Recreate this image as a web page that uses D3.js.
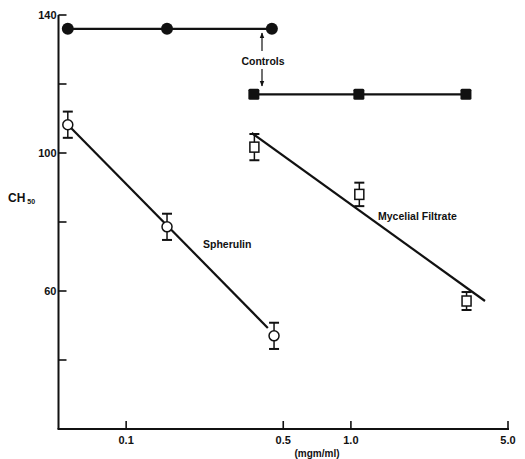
<!DOCTYPE html>
<html><head><meta charset="utf-8">
<script src="https://cdn.jsdelivr.net/npm/d3@7"></script>
<style>
body{margin:0;background:#fff;}
text{font-family:"Liberation Sans",Arial,sans-serif;font-weight:bold;fill:#111;}
</style></head>
<body><svg id="c" width="525" height="459"></svg>
<script>
// Data
const yTicks = [40, 60, 80, 100, 120, 140];
const yTickLabels = ["", "60", "", "100", "", "140"];
const xTicks = [0.1, 0.5, 1.0, 5.0];
const xTickLabels = ["0.1", "0.5", "1.0", "5.0"];

const spherulinControlX = [0.055, 0.152, 0.445];
const spherulinControlY = [136, 136, 136];
const mycelialControlX = [0.37, 1.085, 3.25];
const mycelialControlY = [117, 117, 117];

const spherulinX = [0.055, 0.152, 0.455];
const spherulinY = [108.2, 78.6, 47.0];
const spherulinErr = [3.8, 3.8, 3.8];
const spherulinFitX = [0.057, 0.427];
const spherulinFitY = [107.2, 49.3];

const mycelialX = [0.372, 1.09, 3.27];
const mycelialY = [101.7, 88.0, 57.1];
const mycelialErr = [3.8, 3.4, 2.6];
const mycelialFitX = [0.362, 3.95];
const mycelialFitY = [105.8, 57.1];

const svg = d3.select("#c");
const x = d3.scaleLog().domain([0.05, 5]).range([58.5, 508]);
const y = d3.scaleLinear().domain([20, 140]).range([429, 15]);
const ink = "#111";

// Y axis
svg.append("line").attr("x1", x(0.05)).attr("x2", x(0.05)).attr("y1", y(140)).attr("y2", y(20))
  .attr("stroke", ink).attr("stroke-width", 2);
yTicks.forEach((t, i) => {
  svg.append("line").attr("x1", x(0.05)).attr("x2", x(0.05) + 8).attr("y1", y(t)).attr("y2", y(t))
    .attr("stroke", ink).attr("stroke-width", 1.6);
  if (yTickLabels[i]) svg.append("text").attr("x", x(0.05) - 2).attr("y", y(t) + 4)
    .attr("text-anchor", "end").attr("font-size", 11).text(yTickLabels[i]);
});
// X axis
svg.append("line").attr("x1", x(0.05) - 1).attr("x2", x(5) + 1).attr("y1", y(20)).attr("y2", y(20))
  .attr("stroke", ink).attr("stroke-width", 2);
xTicks.forEach((t, i) => {
  svg.append("line").attr("x1", x(t)).attr("x2", x(t)).attr("y1", y(20)).attr("y2", y(20) - 8)
    .attr("stroke", ink).attr("stroke-width", 1.6);
  svg.append("text").attr("x", x(t)).attr("y", y(20) + 15).attr("text-anchor", "middle")
    .attr("font-size", 11).text(xTickLabels[i]);
});
svg.append("text").attr("x", 317).attr("y", 457).attr("text-anchor", "middle").attr("font-size", 10).text("(mgm/ml)");
const ch = svg.append("text").attr("x", 8).attr("y", 202).attr("font-size", 12);
ch.append("tspan").text("CH");
ch.append("tspan").attr("font-size", 7).attr("dx", 2).attr("dy", 2).text("50");

const line = d3.line().x(d => x(d[0])).y(d => y(d[1]));
function path(xs, ys) {
  svg.append("path").attr("d", line(xs.map((v, i) => [v, ys[i]])))
    .attr("fill", "none").attr("stroke", ink).attr("stroke-width", 2.2);
}
// control lines
path(spherulinControlX, spherulinControlY);
path(mycelialControlX, mycelialControlY);
// fit lines
path(spherulinFitX, spherulinFitY);
path(mycelialFitX, mycelialFitY);

// error bars
function errbars(xs, ys, es) {
  xs.forEach((v, i) => {
    const cx = x(v), y1 = y(ys[i] + es[i]), y2 = y(ys[i] - es[i]);
    svg.append("line").attr("x1", cx).attr("x2", cx).attr("y1", y1).attr("y2", y2).attr("stroke", ink).attr("stroke-width", 1.5);
    [y1, y2].forEach(yy => svg.append("line").attr("x1", cx - 5).attr("x2", cx + 5).attr("y1", yy).attr("y2", yy)
      .attr("stroke", ink).attr("stroke-width", 2));
  });
}
errbars(spherulinX, spherulinY, spherulinErr);
errbars(mycelialX, mycelialY, mycelialErr);

// markers
spherulinControlX.forEach((v, i) => svg.append("circle").attr("cx", x(v)).attr("cy", y(spherulinControlY[i])).attr("r", 6).attr("fill", ink));
mycelialControlX.forEach((v, i) => svg.append("rect").attr("x", x(v) - 5.5).attr("y", y(mycelialControlY[i]) - 5.5)
  .attr("width", 11).attr("height", 11).attr("rx", 1.5).attr("fill", ink));
spherulinX.forEach((v, i) => svg.append("circle").attr("cx", x(v)).attr("cy", y(spherulinY[i])).attr("r", 5)
  .attr("fill", "#fff").attr("stroke", ink).attr("stroke-width", 1.5));
mycelialX.forEach((v, i) => svg.append("rect").attr("x", x(v) - 4.5).attr("y", y(mycelialY[i]) - 5)
  .attr("width", 9).attr("height", 10).attr("fill", "#fff").attr("stroke", ink).attr("stroke-width", 1.5));

// annotations
svg.append("text").attr("x", 263).attr("y", 65).attr("text-anchor", "middle").attr("font-size", 10.5).text("Controls");
const defs = svg.append("defs");
defs.append("marker").attr("id", "ah").attr("viewBox", "0 0 10 10").attr("refX", 9).attr("refY", 5)
  .attr("markerWidth", 5).attr("markerHeight", 5).attr("orient", "auto")
  .append("path").attr("d", "M0,1 L10,5 L0,9 Z").attr("fill", ink);
svg.append("line").attr("x1", 262).attr("x2", 262).attr("y1", 51).attr("y2", 33).attr("stroke", ink).attr("stroke-width", 1.2).attr("marker-end", "url(#ah)");
svg.append("line").attr("x1", 262).attr("x2", 262).attr("y1", 69).attr("y2", 86).attr("stroke", ink).attr("stroke-width", 1.2).attr("marker-end", "url(#ah)");
svg.append("text").attr("x", 203).attr("y", 248).attr("font-size", 10.5).text("Spherulin");
svg.append("text").attr("x", 378).attr("y", 220).attr("font-size", 10.5).text("Mycelial Filtrate");
</script></body></html>
